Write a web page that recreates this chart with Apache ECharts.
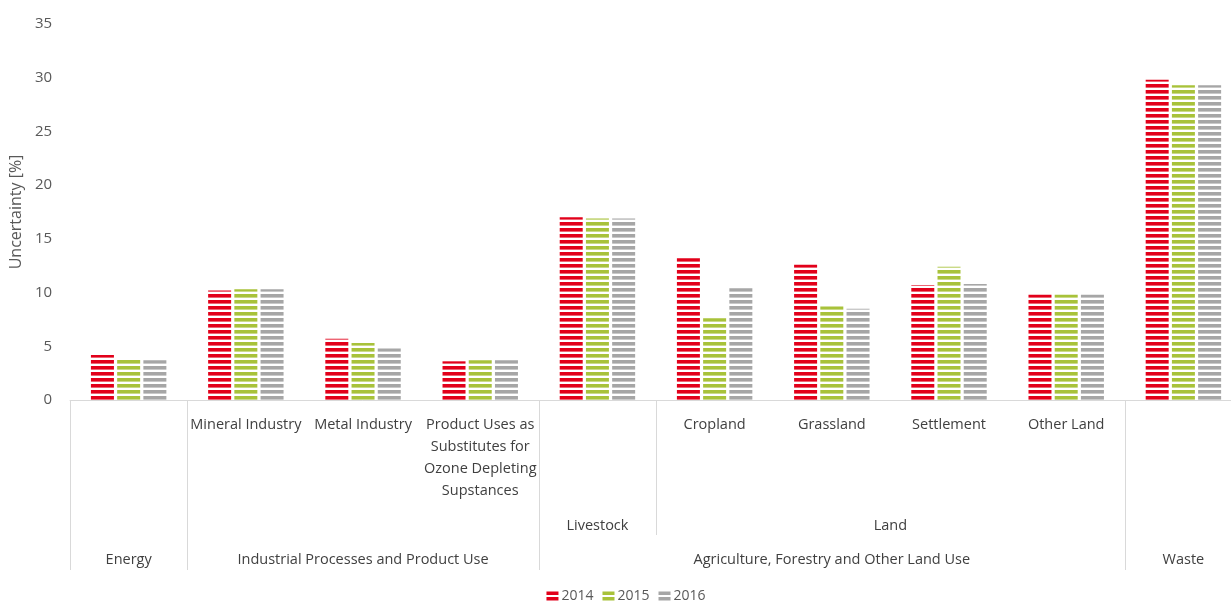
<!DOCTYPE html>
<html>
<head>
<meta charset="utf-8">
<script src="https://cdn.jsdelivr.net/npm/echarts@6/dist/echarts.min.js"></script>
<style>
  html, body { margin: 0; padding: 0; background: #fff; overflow: hidden; }
  /* the original chart is a bit wider than the picture and cut on the right */
  #chart { width: 1252px; height: 604px; }
</style>
</head>
<body>
<div id="chart"></div>
<script>
// leaf categories (bottom row of the axis table)
const categories = ['Energy', 'Mineral Industry', 'Metal Industry',
  'Product Uses as\nSubstitutes for\nOzone Depleting\nSupstances',
  'Livestock', 'Cropland', 'Grassland', 'Settlement', 'Other Land', 'Waste'];
// these leaves have no own row entry, their name is shown lower in the table
const spannedLeaves = ['Energy', 'Livestock', 'Waste'];
const years = ['2014', '2015', '2016'];
const values2014 = [4.2, 10.2, 5.7, 3.6, 17.0, 13.2, 12.6, 10.7, 9.8, 29.8];
const values2015 = [3.9, 10.3, 5.3, 3.7, 16.9, 7.6, 8.7, 12.4, 9.8, 29.3];
const values2016 = [3.7, 10.3, 4.8, 3.7, 16.9, 10.4, 8.5, 10.8, 9.8, 29.3];
const yTicks = [0, 5, 10, 15, 20, 25, 30, 35];

// second and third row of the category table: [label, from, to] in category units
const subGroups = [['Livestock', 4, 5], ['Land', 5, 9]];
const mainGroups = [['Energy', 0, 1], ['Industrial Processes and Product Use', 1, 4],
  ['Agriculture, Forestry and Other Land Use', 4, 9], ['Waste', 9, 10]];

const colors = ['#e2001a', '#a8c23a', '#a6a6a6'];
const FONT = 'Open Sans';
const FS = 14.5;

// horizontal stripe fill like the original bars
function stripes(color) {
  const c = document.createElement('canvas');
  c.width = 6; c.height = 6;
  const ctx = c.getContext('2d');
  ctx.fillStyle = color;
  ctx.fillRect(0, 0, 6, 3.6);
  return { image: c, repeat: 'repeat' };
}

const myChart = echarts.init(document.getElementById('chart'));

const groupAxis = (groups, margin) => ({
  type: 'value', position: 'bottom', min: 0, max: categories.length,
  axisLine: { show: false }, axisTick: { show: false }, splitLine: { show: false },
  axisLabel: {
    customValues: groups.map(g => (g[1] + g[2]) / 2),
    formatter: v => { const g = groups.find(g => (g[1] + g[2]) / 2 === v); return g ? g[0] : ''; },
    margin: margin, color: '#404040', fontFamily: FONT, fontSize: FS, lineHeight: 22
  }
});

const sepAxis = (vals, len) => ({
  type: 'value', position: 'bottom', min: 0, max: categories.length,
  axisLine: { show: false }, splitLine: { show: false }, axisLabel: { show: false },
  axisTick: { show: true, customValues: vals, length: len, lineStyle: { color: '#d9d9d9', width: 1 } }
});

const series = [values2014, values2015, values2016].map((d, i) => ({
  name: years[i],
  type: 'bar',
  barWidth: 23,
  barGap: '14%',
  data: d,
  itemStyle: { color: stripes(colors[i]) }
}));

const option = {
  animation: false,
  grid: { left: 70, top: 24, right: 10, bottom: 204 },
  legend: {
    bottom: -4, left: 'center',
    itemWidth: 12, itemHeight: 9, itemGap: 9,
    icon: 'path://M0,0H12V3.5H0Z M0,5.5H12V9H0Z',
    textStyle: { color: '#595959', fontFamily: FONT, fontSize: 14, padding: [0, 0, 0, -2] },
    data: years.map((y, i) => ({ name: y, itemStyle: { color: colors[i] } }))
  },
  xAxis: [
    {
      type: 'category', position: 'bottom', data: categories,
      axisLine: { lineStyle: { color: '#d9d9d9' } },
      axisTick: { show: false },
      axisLabel: {
        interval: 0, margin: 14, color: '#404040', fontFamily: FONT, fontSize: FS, lineHeight: 22,
        formatter: v => spannedLeaves.includes(v) ? '' : v
      }
    },
    groupAxis(subGroups, 115),
    groupAxis(mainGroups, 149),
    sepAxis([0, 1, 4, 9, 10], 170),
    sepAxis([5], 135)
  ],
  yAxis: {
    type: 'value', min: yTicks[0], max: yTicks[yTicks.length - 1], interval: 5,
    name: 'Uncertainty [%]', nameLocation: 'middle', nameGap: 38,
    nameTextStyle: { color: '#595959', fontFamily: FONT, fontSize: 16 },
    axisLine: { show: false }, axisTick: { show: false }, splitLine: { show: false },
    axisLabel: { margin: 18, color: '#595959', fontFamily: FONT, fontSize: 15 }
  },
  series: series
};

myChart.setOption(option);
window.addEventListener('resize', function () {
  myChart.resize();
});
</script>
</body>
</html>
